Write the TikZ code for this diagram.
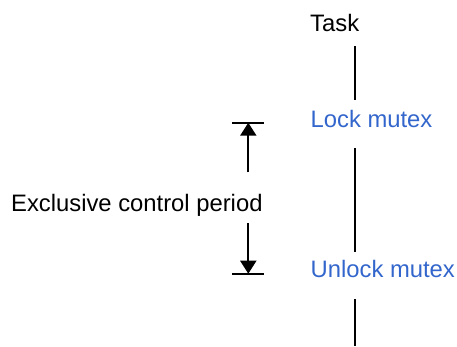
\documentclass[tikz,border=0pt]{standalone}
\usepackage{fontspec}
\setmainfont{Liberation Sans}
\usetikzlibrary{arrows.meta}
\definecolor{mutexblue}{RGB}{51,102,204}
\begin{document}
\begin{tikzpicture}[x=1bp,y=-1bp,
  label/.style={anchor=base west,inner sep=0pt,font=\fontsize{23.8bp}{28bp}\selectfont},
  life/.style={line width=2bp},
  bound/.style={line width=1.6bp},
  span/.style={line width=2bp,-{Triangle[length=13bp,width=16bp]}}]
\useasboundingbox (0,0) rectangle (457,346);

% labels
\node[label] (task) at (310,31.5) {Task};
\node[label,text=mutexblue] (lock) at (310.5,127.3) {Lock mutex};
\node[label,text=mutexblue] (unlock) at (310.5,277.3) {Unlock mutex};
\node[label] (period) at (11,211) {Exclusive control period};

% task lifeline, broken at the labels
\coordinate (l1) at (354.5,46);
\coordinate (l2) at (354.5,100);
\coordinate (l3) at (354.5,148);
\coordinate (l4) at (354.5,252);
\coordinate (l5) at (354.5,299);
\coordinate (l6) at (354.5,346);
\draw[life] (l1) -- (l2);
\draw[life] (l3) -- (l4);
\draw[life] (l5) -- (l6);

% period marker
\coordinate (topbar) at (248.3,122.7);
\coordinate (botbar) at (248.3,273.7);
\coordinate (upfrom) at (248.3,172.3);
\coordinate (downfrom) at (248.3,223.3);
\draw[bound] ([xshift=-16.5bp]topbar) -- ([xshift=15.2bp]topbar);
\draw[bound] ([xshift=-16.5bp]botbar) -- ([xshift=15.2bp]botbar);
\draw[span] (upfrom) -- (topbar);
\draw[span] (downfrom) -- (botbar);
\end{tikzpicture}
\end{document}
